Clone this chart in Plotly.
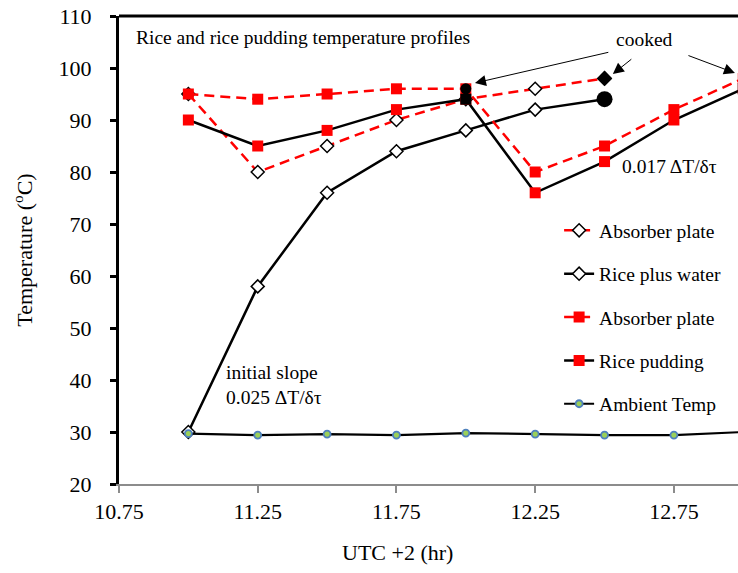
import plotly.graph_objects as go

# ---- data ----
time_hr = [11.0, 11.25, 11.5, 11.75, 12.0, 12.25, 12.5, 12.75, 13.0]

rice_absorber = [95, 80, 85, 90, 94, 96, 98]            # red dashed, open diamonds
rice_water = [30, 58, 76, 84, 88, 92, 94]               # black solid, open diamonds
pudding_absorber = [95, 94, 95, 96, 96, 80, 85, 92, 98]  # red dashed, red squares
rice_pudding = [90, 85, 88, 92, 94, 76, 82, 90, 96]      # black solid, red squares
ambient = [29.7, 29.4, 29.6, 29.4, 29.8, 29.6, 29.4, 29.4, 30.0]

x_tick_labels = ["10.75", "11.25", "11.75", "12.25", "12.75"]
x_tick_values = [10.75, 11.25, 11.75, 12.25, 12.75]

FONT = "Liberation Serif, Times New Roman, serif"
RED = "#ff0000"
DASH = "10px,6px"

fig = go.Figure()

fig.add_trace(go.Scatter(
    x=time_hr[:len(rice_absorber)], y=rice_absorber, name="Absorber plate",
    mode="lines+markers", legendgroup="a",
    line=dict(color=RED, width=2.5, dash=DASH),
    marker=dict(symbol="diamond", size=10, color="white", line=dict(color="black", width=1.5)),
))
fig.add_trace(go.Scatter(
    x=time_hr[:len(rice_water)], y=rice_water, name="Rice plus water",
    mode="lines+markers", legendgroup="b",
    line=dict(color="black", width=2.5),
    marker=dict(symbol="diamond", size=10, color="white", line=dict(color="black", width=1.5)),
))
fig.add_trace(go.Scatter(
    x=time_hr, y=pudding_absorber, name="Absorber plate",
    mode="lines+markers", legendgroup="c",
    line=dict(color=RED, width=2.5, dash=DASH),
    marker=dict(symbol="square", size=11, color=RED),
))
fig.add_trace(go.Scatter(
    x=time_hr, y=rice_pudding, name="Rice pudding",
    mode="lines+markers", legendgroup="d",
    line=dict(color="black", width=2.5),
    marker=dict(symbol="square", size=11, color=RED),
))
fig.add_trace(go.Scatter(
    x=time_hr, y=ambient, name="Ambient Temp",
    mode="lines+markers", legendgroup="e",
    line=dict(color="black", width=2.2),
    marker=dict(symbol="circle", size=7, color="#9bd058", line=dict(color="#4f81bd", width=1.8)),
))

# "cooked" points (taken from the series above)
fig.add_trace(go.Scatter(
    x=[time_hr[len(rice_absorber) - 1]], y=[rice_absorber[-1]], mode="markers",
    showlegend=False, hoverinfo="skip",
    marker=dict(symbol="diamond", size=12, color="black"),
))
fig.add_trace(go.Scatter(
    x=[time_hr[len(rice_water) - 1]], y=[rice_water[-1]], mode="markers",
    showlegend=False, hoverinfo="skip",
    marker=dict(symbol="circle", size=16, color="black"),
))
fig.add_trace(go.Scatter(
    x=[time_hr[4], time_hr[8]], y=[rice_pudding[4], rice_pudding[8]], mode="markers",
    showlegend=False, hoverinfo="skip",
    marker=dict(symbol="square", size=11, color="black"),
))
fig.add_trace(go.Scatter(
    x=[time_hr[4]], y=[pudding_absorber[4]], mode="markers",
    showlegend=False, hoverinfo="skip",
    marker=dict(symbol="circle", size=11, color="black"),
))

txt = dict(family=FONT, size=19.5, color="black")
annotations = [
    dict(x=10.804, y=105.96, text="Rice and rice pudding temperature profiles",
         xanchor="left", yanchor="middle", showarrow=False, font=txt),
    dict(x=12.645, y=105.4, text="cooked", xanchor="center", yanchor="middle",
         showarrow=False, font=txt),
    dict(x=12.555, y=81.15, text="0.017 ΔT/δτ", xanchor="left", yanchor="middle",
         showarrow=False, font=txt),
    dict(x=11.128, y=39.04, text="initial slope<br>0.025 ΔT/δτ", xanchor="left",
         yanchor="middle", align="left", showarrow=False, font=txt),
    dict(x=0.4507, y=-0.1474, xref="paper", yref="paper", text="UTC +2 (hr)",
         xanchor="center", yanchor="middle", showarrow=False,
         font=dict(family=FONT, size=22, color="black")),
]
arrows = [
    ((12.519, 103.08), (12.033, 97.12)),
    ((12.602, 101.92), (12.530, 98.85)),
    ((12.797, 102.50), (12.970, 99.04)),
]
for (tx, ty), (hx, hy) in arrows:
    annotations.append(dict(
        x=hx, y=hy, ax=tx, ay=ty, xref="x", yref="y", axref="x", ayref="y",
        text="", showarrow=True, arrowhead=2, arrowsize=2.2, arrowwidth=1,
        arrowcolor="black", standoff=0,
    ))

fig.update_layout(
    width=738, height=573,
    margin=dict(l=119, r=0, t=16, b=89, autoexpand=False),
    paper_bgcolor="white", plot_bgcolor="white",
    font=dict(family=FONT, color="black"),
    showlegend=True,
    legend=dict(
        x=0.711, y=0.583, xanchor="left", yanchor="top",
        font=dict(family=FONT, size=19.5, color="black"),
        bgcolor="rgba(0,0,0,0)", tracegroupgap=15, traceorder="grouped",
    ),
    annotations=annotations,
    shapes=[dict(type="line", xref="paper", yref="paper", x0=0, x1=1, y0=1, y1=1,
                 line=dict(color="black", width=3))],
)

fig.update_xaxes(
    range=[10.75, 12.981], tickvals=x_tick_values, ticktext=x_tick_labels,
    showline=True, linecolor="#8c8c8c", linewidth=2,
    ticks="outside", ticklen=7, tickwidth=1.5, tickcolor="#8c8c8c",
    tickfont=dict(family=FONT, size=22, color="black"), ticklabelstandoff=0,
    showgrid=False, zeroline=False,
)
fig.update_yaxes(
    range=[20, 110], tick0=20, dtick=10,
    showline=True, linecolor="black", linewidth=3,
    ticks="outside", ticklen=6, tickwidth=2.5, tickcolor="black",
    tickfont=dict(family=FONT, size=22, color="black"), ticklabelstandoff=14,
    showgrid=False, zeroline=False,
    title=dict(text="Temperature (<sup>o</sup>C)", font=dict(family=FONT, size=22, color="black"), standoff=20),
)

fig.write_html("out.html")
